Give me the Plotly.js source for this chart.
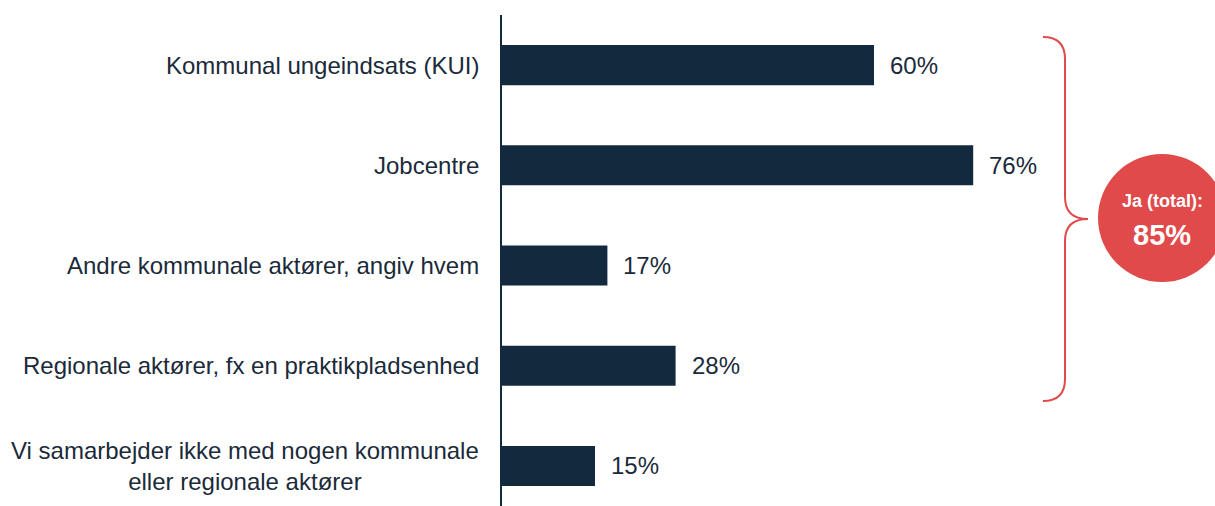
<!DOCTYPE html>
<html>
<head>
<meta charset="utf-8">
<script src="https://cdn.plot.ly/plotly-3.0.1.min.js"></script>
<style>
html,body{margin:0;padding:0;background:#fff;}
#chart{width:1215px;height:506px;}
</style>
</head>
<body>
<div id="chart"></div>
<script>
const categories = [
  "Kommunal ungeindsats (KUI)",
  "Jobcentre",
  "Andre kommunale aktører, angiv hvem",
  "Regionale aktører, fx en praktikpladsenhed",
  "Vi samarbejder ikke med nogen kommunale<br>eller regionale aktører"
];
const values = [60, 76, 17, 28, 15];
const totalLabel = "Ja (total):";
const totalValue = "85%";

const W = 1215, H = 506;
const M = {l: 502, r: 0, t: 15, b: 0};
const PW = W - M.l - M.r, PH = H - M.t - M.b;
// pixel -> paper helpers for decoration only
const px = v => (v - M.l) / PW;
const py = v => (H - M.b - v) / PH;

const navy = "#13293d";
const red = "#e04a4b";
const textColor = "#1b2a3a";
const fontFam = "'Liberation Sans', Arial, sans-serif";

const idx = categories.map((c, i) => i);

const trace = {
  type: "bar",
  orientation: "h",
  x: values,
  y: idx,
  width: 0.4,
  marker: {color: navy},
  hoverinfo: "skip"
};

const annotations = [];
categories.forEach((c, i) => {
  annotations.push({
    xref: "paper", yref: "y", x: 0, y: i,
    xanchor: "right", yanchor: "middle", xshift: -21,
    text: c, showarrow: false, align: "center",
    font: {family: fontFam, size: 24, color: textColor}
  });
  annotations.push({
    xref: "x", yref: "y", x: values[i], y: i,
    xanchor: "left", yanchor: "middle", xshift: 14,
    text: values[i] + "%", showarrow: false,
    font: {family: fontFam, size: 24, color: textColor}
  });
});

// circle text
annotations.push({
  xref: "paper", yref: "paper", x: px(1162), y: py(201),
  xanchor: "center", yanchor: "middle",
  text: "<b>" + totalLabel + "</b>", showarrow: false,
  font: {family: fontFam, size: 18, color: "#ffffff"}
});
annotations.push({
  xref: "paper", yref: "paper", x: px(1162), y: py(235),
  xanchor: "center", yanchor: "middle",
  text: "<b>" + totalValue + "</b>", showarrow: false,
  font: {family: fontFam, size: 29, color: "#ffffff"}
});

const braceX = 1065, braceTop = 37, braceBot = 401, braceMid = 219, tipX = 1088, endX = 1043, r = 22;
const P = (x, y) => px(x) + "," + py(y);
const bracePath =
  "M" + P(endX, braceTop) +
  " Q" + P(braceX, braceTop) + " " + P(braceX, braceTop + r) +
  " L" + P(braceX, braceMid - r) +
  " Q" + P(braceX, braceMid) + " " + P(tipX, braceMid) +
  " Q" + P(braceX, braceMid) + " " + P(braceX, braceMid + r) +
  " L" + P(braceX, braceBot - r) +
  " Q" + P(braceX, braceBot) + " " + P(endX, braceBot);

const shapes = [
  {type: "path", xref: "paper", yref: "paper", path: bracePath,
   line: {color: red, width: 2}, fillcolor: "rgba(0,0,0,0)"},
  {type: "circle", xref: "paper", yref: "paper",
   x0: px(1098), x1: px(1226), y0: py(282), y1: py(154),
   fillcolor: red, line: {width: 0}}
];

const layout = {
  width: W, height: H,
  margin: M,
  paper_bgcolor: "#ffffff",
  plot_bgcolor: "#ffffff",
  showlegend: false,
  xaxis: {range: [0, PW / 6.2], visible: false, fixedrange: true},
  yaxis: {
    range: [4.40, -0.5], showgrid: false, zeroline: false,
    showticklabels: false, ticks: "",
    showline: true, linecolor: navy, linewidth: 2
  },
  annotations: annotations,
  shapes: shapes
};

Plotly.newPlot("chart", [trace], layout, {staticPlot: true, displayModeBar: false});
</script>
</body>
</html>
